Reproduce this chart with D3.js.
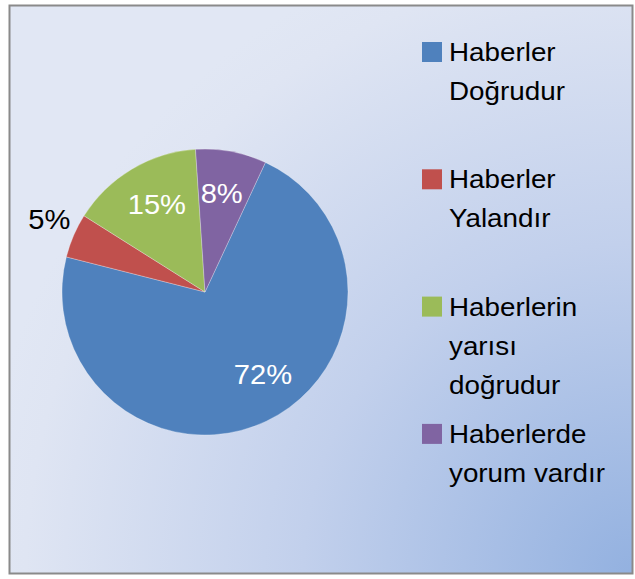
<!DOCTYPE html>
<html>
<head>
<meta charset="utf-8">
<script src="https://cdn.jsdelivr.net/npm/d3@7"></script>
<style>
  html, body { margin: 0; padding: 0; background: #ffffff; }
  svg { display: block; }
  text { font-family: "Liberation Sans", Arial, sans-serif; }
</style>
</head>
<body>
<svg id="chart" width="635" height="579"></svg>
<script>
// ---- data ----
const categories = [
  ["Haberler", "Doğrudur"],
  ["Haberler", "Yalandır"],
  ["Haberlerin", "yarısı", "doğrudur"],
  ["Haberlerde", "yorum vardır"]
];
const values = [72, 5, 15, 8];
const percentLabels = ["72%", "5%", "15%", "8%"];
const colors = ["#4f81bd", "#c0504d", "#9bbb59", "#8064a2"];

// ---- layout ----
const W = 635, H = 579;
const svg = d3.select("#chart");
const defs = svg.append("defs");

const grad = defs.append("radialGradient")
  .attr("id", "bg").attr("gradientUnits", "userSpaceOnUse")
  .attr("cx", 633).attr("cy", 574).attr("r", 660);
grad.append("stop").attr("offset", "0").attr("stop-color", "#93b1e0");
grad.append("stop").attr("offset", "0.5").attr("stop-color", "#c2d0ec");
grad.append("stop").attr("offset", "0.92").attr("stop-color", "#dfe5f3");
grad.append("stop").attr("offset", "1").attr("stop-color", "#e1e7f4");

svg.append("rect")
  .attr("x", 9.5).attr("y", 5.5).attr("width", 623).attr("height", 568)
  .attr("fill", "url(#bg)")
  .attr("stroke", "#8a8a8a").attr("stroke-width", 2);

const cx = 205, cy = 292, R = 143;
const startOffset = 25 * Math.PI / 180;

const pie = d3.pie().sort(null).value(d => d)
  .startAngle(startOffset).endAngle(startOffset + 2 * Math.PI);
const arcs = pie(values);
const arc = d3.arc().innerRadius(0).outerRadius(R);

const g = svg.append("g").attr("transform", `translate(${cx},${cy})`);
g.selectAll("path.slice").data(arcs).enter().append("path")
  .attr("class", "slice")
  .attr("d", arc)
  .attr("fill", (d, i) => colors[i])
  .attr("stroke", "rgba(255,255,255,0.35)")
  .attr("stroke-width", 0.8);

// label positions: inside labels near r=100, small slice outside
const labelArcIn = d3.arc().innerRadius(200).outerRadius(200);
const labelArcOut = d3.arc().innerRadius(345).outerRadius(345);
const angleNudge = [-10, 2, 2, -1]; // degrees
g.selectAll("text.pct").data(arcs).enter().append("text")
  .attr("class", "pct")
  .attr("transform", (d, i) => {
    const mid = (d.startAngle + d.endAngle) / 2 + angleNudge[i] * Math.PI / 180;
    const small = (d.endAngle - d.startAngle) < 0.4;
    const r = small ? 172 : 100;
    const x = Math.sin(mid) * r, y = -Math.cos(mid) * r;
    return `translate(${x},${y + 10}) scale(1.04,1)`;
  })
  .attr("text-anchor", "middle")
  .attr("font-size", 28)
  .attr("fill", (d, i) => ((d.endAngle - d.startAngle) < 0.4 ? "#000000" : "#ffffff"))
  .text((d, i) => percentLabels[i]);

// ---- legend ----
const legendX = 422, legendTop = 42, entryGap = 127.3, lineH = 39.2;
const lg = svg.append("g");
categories.forEach((lines, i) => {
  const y0 = legendTop + i * entryGap;
  lg.append("rect")
    .attr("x", legendX).attr("y", y0)
    .attr("width", 20).attr("height", 20)
    .attr("fill", colors[i]);
  const t = lg.append("text")
    .attr("transform", `translate(${legendX + 27},${y0 + 19}) scale(1.07,1)`)
    .attr("font-size", 26)
    .attr("fill", "#000000");
  lines.forEach((ln, j) => {
    t.append("tspan").attr("x", 0).attr("y", j * lineH).text(ln);
  });
});
</script>
</body>
</html>
